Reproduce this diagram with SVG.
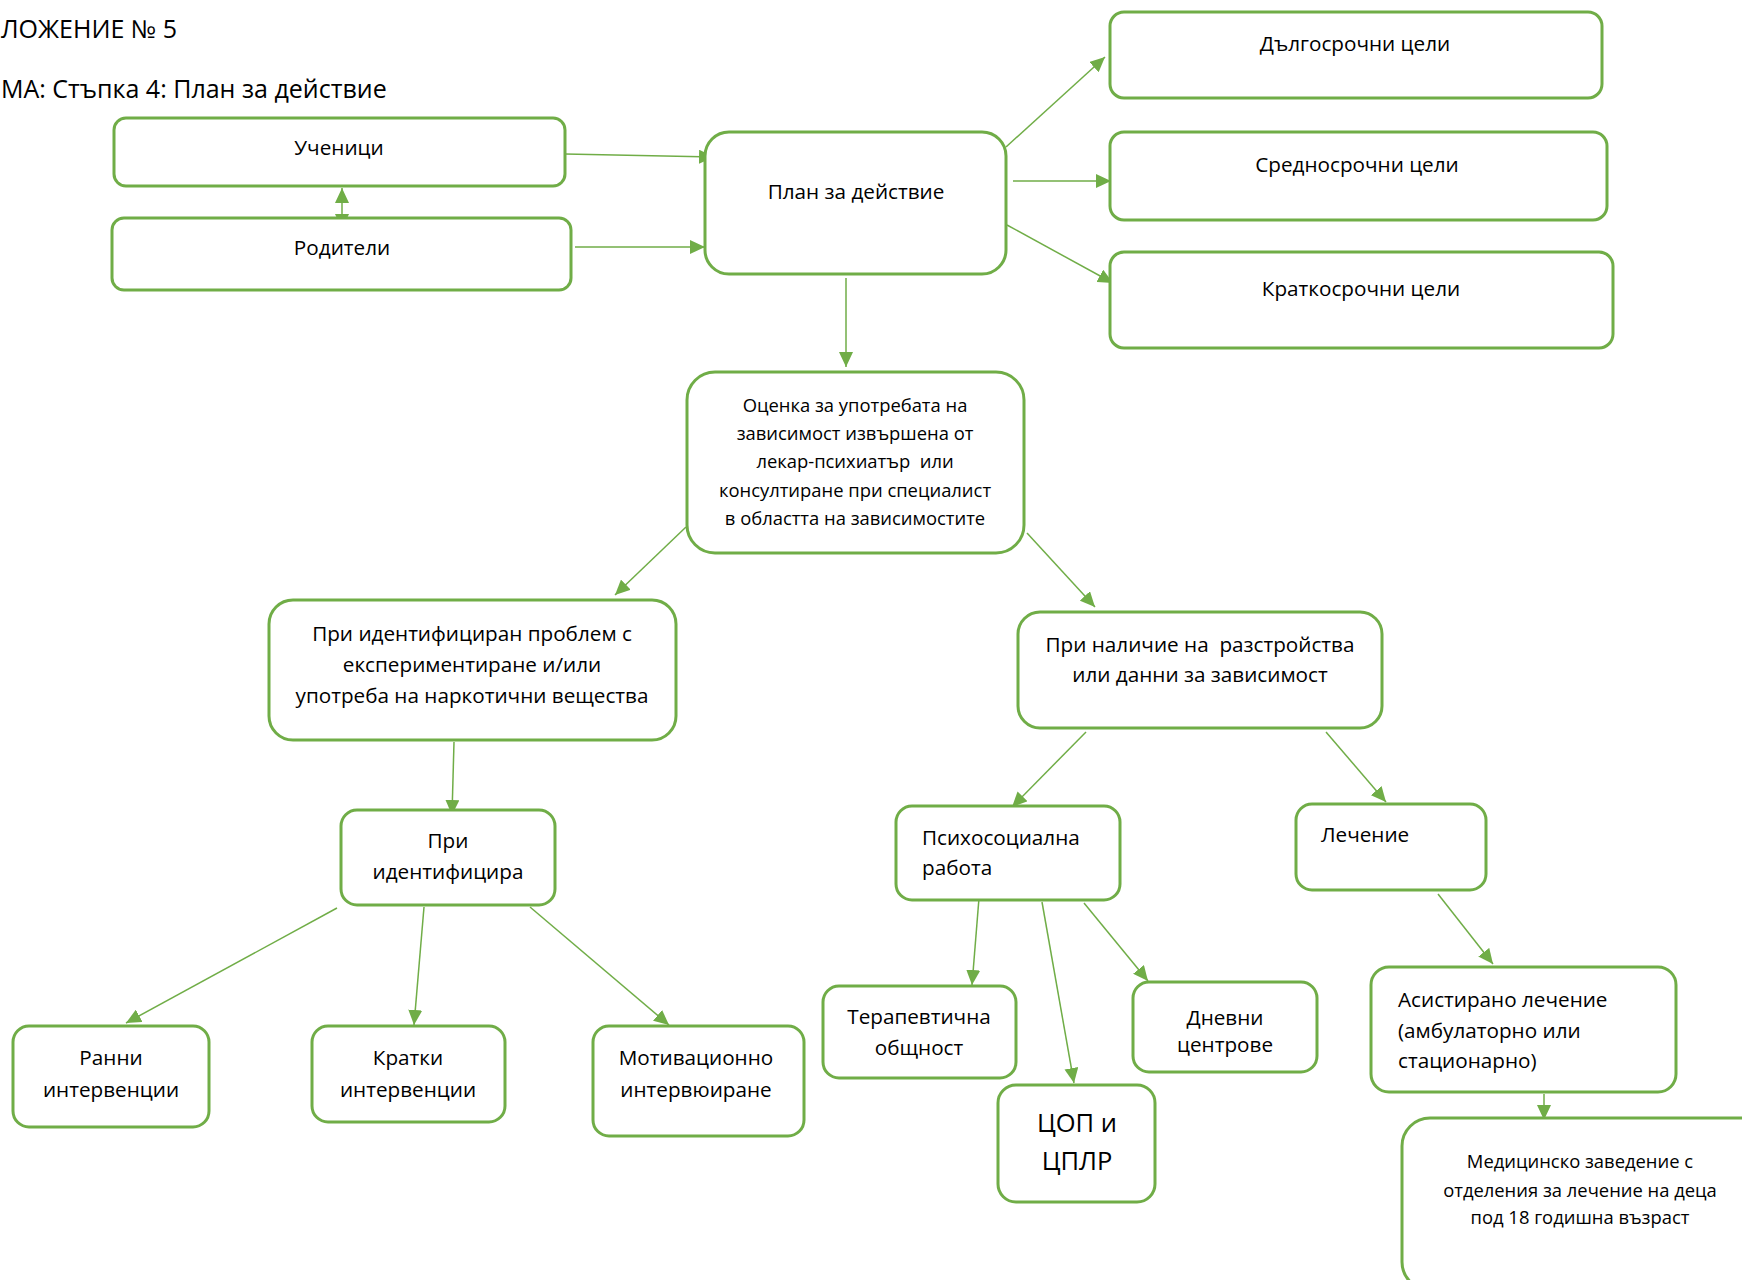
<svg xmlns="http://www.w3.org/2000/svg" width="1742" height="1280" viewBox="0 0 1742 1280">
<defs>
<marker id="ah" markerUnits="userSpaceOnUse" markerWidth="16" markerHeight="14" refX="15" refY="7" orient="auto-start-reverse">
<path d="M0,0 L15,7 L0,14 Z" fill="#70AD47"/>
</marker>
</defs>
<style>
.box{fill:#fff;stroke:#70AD47;stroke-width:3}
.c{stroke:#70AD47;stroke-width:1.5;fill:none;marker-end:url(#ah)}
text{font-family:"Open Sans","Noto Sans","DejaVu Sans",sans-serif;fill:#000}
.t{font-size:20.7px;text-anchor:middle}
.l{font-size:20.7px}
.s{font-size:18.4px;text-anchor:middle}
.h{font-size:25px}
</style>
<rect width="1742" height="1280" fill="#fff"/>
<g id="title">
<text class="h" x="1" y="38">ЛОЖЕНИЕ № 5</text>
<text class="h" x="1" y="98">МА: Стъпка 4: План за действие</text>
</g>
<g id="connectors">
<line class="c" x1="565" y1="154" x2="714" y2="157"/>
<line class="c" x1="575" y1="247" x2="705" y2="247"/>
<line class="c" x1="342" y1="188" x2="342" y2="229" style="marker-start:url(#ah)"/>
<line class="c" x1="1006" y1="147" x2="1105" y2="57"/>
<line class="c" x1="1013" y1="181" x2="1111" y2="181"/>
<line class="c" x1="1007" y1="225" x2="1113" y2="283"/>
<line class="c" x1="846" y1="278" x2="846" y2="367"/>
<line class="c" x1="686" y1="527" x2="615" y2="595"/>
<line class="c" x1="1027" y1="533" x2="1095" y2="607"/>
<line class="c" x1="454" y1="742" x2="452" y2="815"/>
<line class="c" x1="337" y1="908" x2="126" y2="1023"/>
<line class="c" x1="424" y1="907" x2="414" y2="1025"/>
<line class="c" x1="530" y1="907" x2="669" y2="1025"/>
<line class="c" x1="1086" y1="732" x2="1012" y2="807"/>
<line class="c" x1="1326" y1="732" x2="1386" y2="802"/>
<line class="c" x1="979" y1="898" x2="972" y2="985"/>
<line class="c" x1="1042" y1="902" x2="1074" y2="1083"/>
<line class="c" x1="1084" y1="903" x2="1148" y2="981"/>
<line class="c" x1="1438" y1="894" x2="1493" y2="964"/>
<line class="c" x1="1544" y1="1094" x2="1544" y2="1120"/>
</g>
<g id="uchenitsi"><rect class="box" x="114" y="118" width="451" height="68" rx="12"/><text class="t" x="339" y="155">Ученици</text></g>
<g id="roditeli"><rect class="box" x="112" y="218" width="459" height="72" rx="12"/><text class="t" x="342" y="255">Родители</text></g>
<g id="plan"><rect class="box" x="705" y="132" width="301" height="142" rx="24"/><text class="t" x="856" y="199">План за действие</text></g>
<g id="dalgosrochni"><rect class="box" x="1110" y="12" width="492" height="86" rx="14"/><text class="t" x="1355" y="51">Дългосрочни цели</text></g>
<g id="srednosrochni"><rect class="box" x="1110" y="132" width="497" height="88" rx="14"/><text class="t" x="1357" y="172">Средносрочни цели</text></g>
<g id="kratkosrochni"><rect class="box" x="1110" y="252" width="503" height="96" rx="14"/><text class="t" x="1361" y="296">Краткосрочни цели</text></g>
<g id="otsenka"><rect class="box" x="687" y="372" width="337" height="181" rx="28"/>
<text class="s" x="855" y="412">Оценка за употребата на</text>
<text class="s" x="855" y="440">зависимост извършена от</text>
<text class="s" x="855" y="468" xml:space="preserve">лекар-психиатър  или</text>
<text class="s" x="855" y="497">консултиране при специалист</text>
<text class="s" x="855" y="525">в областта на зависимостите</text></g>
<g id="pri-identifitsiran"><rect class="box" x="269" y="600" width="407" height="140" rx="24"/>
<text class="t" x="472" y="641">При идентифициран проблем с</text>
<text class="t" x="472" y="672">експериментиране и/или</text>
<text class="t" x="472" y="703">употреба на наркотични вещества</text></g>
<g id="pri-nalichie"><rect class="box" x="1018" y="612" width="364" height="116" rx="22"/>
<text class="t" x="1200" y="652" xml:space="preserve">При наличие на  разстройства</text>
<text class="t" x="1200" y="682">или данни за зависимост</text></g>
<g id="pri-identifitsira"><rect class="box" x="341" y="810" width="214" height="95" rx="16"/>
<text class="t" x="448" y="848">При</text>
<text class="t" x="448" y="879">идентифицира</text></g>
<g id="ranni"><rect class="box" x="13" y="1026" width="196" height="101" rx="16"/>
<text class="t" x="111" y="1065">Ранни</text>
<text class="t" x="111" y="1097">интервенции</text></g>
<g id="kratki"><rect class="box" x="312" y="1026" width="193" height="96" rx="16"/>
<text class="t" x="408" y="1065">Кратки</text>
<text class="t" x="408" y="1097">интервенции</text></g>
<g id="motivatsionno"><rect class="box" x="593" y="1026" width="211" height="110" rx="16"/>
<text class="t" x="696" y="1065">Мотивационно</text>
<text class="t" x="696" y="1097">интервюиране</text></g>
<g id="psihosotsialna"><rect class="box" x="896" y="806" width="224" height="94" rx="16"/>
<text class="l" x="922" y="845">Психосоциална</text>
<text class="l" x="922" y="875">работа</text></g>
<g id="lechenie"><rect class="box" x="1296" y="804" width="190" height="86" rx="16"/>
<text class="l" x="1321" y="842">Лечение</text></g>
<g id="terapevtichna"><rect class="box" x="823" y="986" width="193" height="92" rx="16"/>
<text class="t" x="919" y="1024">Терапевтична</text>
<text class="t" x="919" y="1055">общност</text></g>
<g id="tsop"><rect class="box" x="998" y="1085" width="157" height="117" rx="18"/>
<text class="t" x="1077" y="1132" style="font-size:25.5px">ЦОП и</text>
<text class="t" x="1077" y="1170" style="font-size:25.5px">ЦПЛР</text></g>
<g id="dnevni"><rect class="box" x="1133" y="982" width="184" height="90" rx="16"/>
<text class="t" x="1225" y="1025">Дневни</text>
<text class="t" x="1225" y="1052">центрове</text></g>
<g id="asistirano"><rect class="box" x="1371" y="967" width="305" height="125" rx="18"/>
<text class="l" x="1398" y="1007">Асистирано лечение</text>
<text class="l" x="1398" y="1038">(амбулаторно или</text>
<text class="l" x="1398" y="1068">стационарно)</text></g>
<g id="meditsinsko"><rect class="box" x="1402" y="1118" width="380" height="172" rx="28"/>
<text class="s" x="1580" y="1168">Медицинско заведение с</text>
<text class="s" x="1580" y="1197">отделения за лечение на деца</text>
<text class="s" x="1580" y="1224">под 18 годишна възраст</text></g>
</svg>
